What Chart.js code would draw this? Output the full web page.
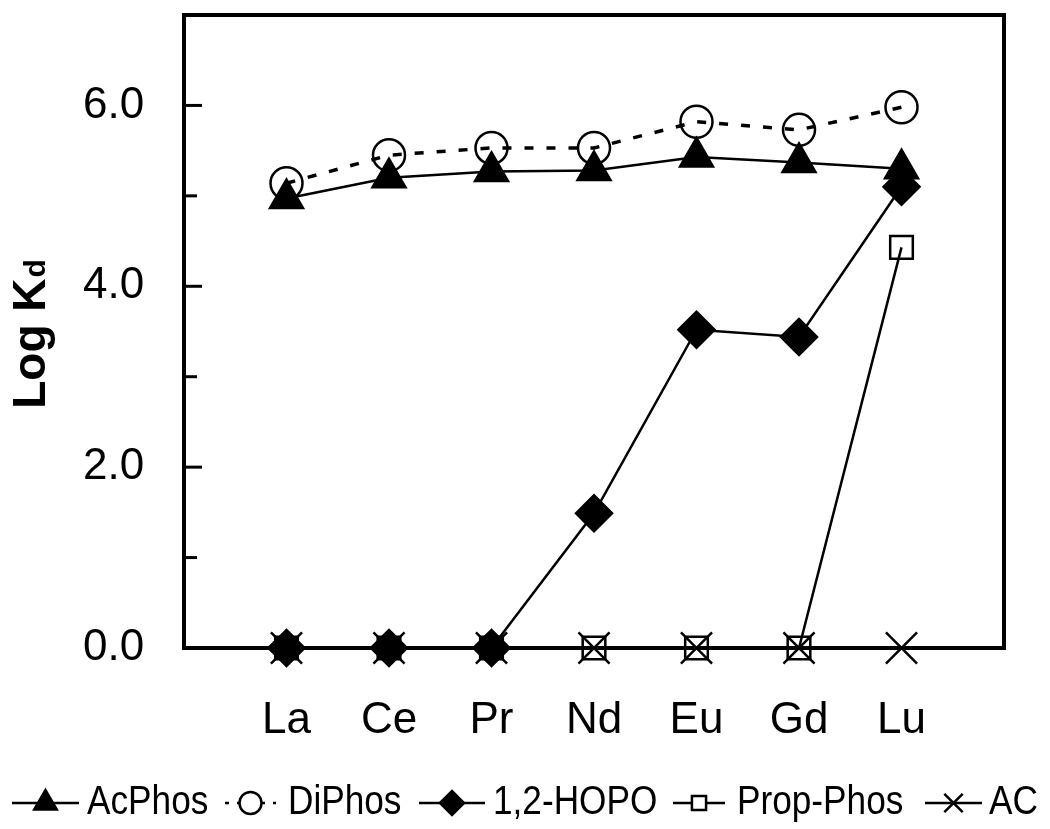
<!DOCTYPE html>
<html>
<head>
<meta charset="utf-8">
<script src="https://cdn.jsdelivr.net/npm/chart.js@4/dist/chart.umd.min.js"></script>
<style>
  html, body { margin: 0; padding: 0; background: #fff; }
</style>
</head>
<body>
<canvas id="kd" width="1050" height="829"></canvas>
<script>
// elements on the x axis
const elements = ['La', 'Ce', 'Pr', 'Nd', 'Eu', 'Gd', 'Lu'];
// log Kd
const acPhos   = [4.97, 5.20, 5.27, 5.28, 5.43, 5.37, 5.30];
const diPhos   = [5.14, 5.45, 5.53, 5.53, 5.82, 5.73, 5.98];
const hopo     = [0, 0, 0, 1.49, 3.52, 3.44, 5.10];
const propPhos = [0, 0, 0, 0, 0, 0, 4.43];
const acSorb   = [0, 0, 0, 0, 0, 0, 0];
const seriesNames = ['AcPhos', 'DiPhos', '1,2-HOPO', 'Prop-Phos', 'AC'];
const yLabels = ['0.0', '', '2.0', '', '4.0', '', '6.0', ''];

const pts = arr => arr.map((v, i) => ({ x: i + 1, y: v }));

const styles = [
  { pointStyle: 'triangle', pointRadius: 19, fill: '#000', dash: [], width: 2.5 },
  { pointStyle: 'circle',   pointRadius: 16, fill: 'rgba(0,0,0,0)', dash: [9, 13], width: 3.5 },
  { pointStyle: 'rectRot',  pointRadius: 18, fill: '#000', dash: [], width: 2.5 },
  { pointStyle: 'rect',     pointRadius: 16, fill: 'rgba(0,0,0,0)', dash: [], width: 2.5 },
  { pointStyle: 'crossRot', pointRadius: 22, fill: 'rgba(0,0,0,0)', dash: [], width: 2.5 }
];

const allData = [acPhos, diPhos, hopo, propPhos, acSorb];

const datasets = allData.map((d, i) => ({
  label: seriesNames[i],
  data: pts(d),
  borderColor: '#000',
  borderWidth: styles[i].width,
  borderDash: styles[i].dash,
  pointStyle: styles[i].pointStyle,
  pointRadius: styles[i].pointRadius,
  pointHoverRadius: styles[i].pointRadius,
  pointBackgroundColor: styles[i].fill,
  pointBorderColor: '#000',
  pointBorderWidth: 2.5,
  tension: 0,
  clip: false
}));

const frame = {
  id: 'frame',
  afterDraw(chart) {
    const ctx = chart.ctx;
    const a = chart.chartArea;
    const y = chart.scales.y;
    ctx.save();
    ctx.strokeStyle = '#000';
    ctx.lineWidth = 4;
    ctx.strokeRect(a.left, a.top, a.right - a.left, a.bottom - a.top);
    // inward ticks
    ctx.lineWidth = 3;
    for (let v = 1; v <= 6; v++) {
      const py = y.getPixelForValue(v);
      ctx.beginPath();
      ctx.moveTo(a.left, py);
      ctx.lineTo(a.left + (v % 2 === 0 ? 18 : 13), py);
      ctx.stroke();
    }
    // y title with subscript
    ctx.fillStyle = '#000';
    ctx.translate(45, (a.top + a.bottom) / 2 + 3);
    ctx.rotate(-Math.PI / 2);
    ctx.textBaseline = 'alphabetic';
    const main = 'Log K';
    ctx.font = 'bold 46px "Liberation Sans", Arial, sans-serif';
    const w1 = ctx.measureText(main).width;
    ctx.font = 'bold 30px "Liberation Sans", Arial, sans-serif';
    const w2 = ctx.measureText('d').width;
    const x0 = -(w1 + w2) / 2;
    ctx.font = 'bold 46px "Liberation Sans", Arial, sans-serif';
    ctx.fillText(main, x0, 0);
    ctx.font = 'bold 30px "Liberation Sans", Arial, sans-serif';
    ctx.fillText('d', x0 + w1 + 1, 0);
    ctx.restore();

    // legend along the bottom
    ctx.save();
    const ly = 803;
    const starts = [12, 225, 419, 673, 925];
    const widths = [67, 51, 66, 52, 57];
    const textX = [87, 288, 493, 737, 989];
    const legendRadius = [13, 11, 12, 10, 13];
    ctx.font = '40px "Liberation Sans", Arial, sans-serif';
    ctx.textBaseline = 'middle';
    seriesNames.forEach((name, i) => {
      const sx = starts[i];
      const sw = widths[i];
      ctx.strokeStyle = '#000';
      ctx.lineWidth = 2.5;
      ctx.setLineDash(i === 1 ? [4, 8] : []);
      ctx.beginPath();
      ctx.moveTo(sx, ly);
      ctx.lineTo(sx + sw, ly);
      ctx.stroke();
      ctx.setLineDash([]);
      ctx.fillStyle = styles[i].fill === '#000' ? '#000' : '#fff';
      Chart.helpers.drawPoint(ctx, {
        pointStyle: styles[i].pointStyle,
        radius: legendRadius[i],
        rotation: 0,
        borderWidth: 2.5
      }, sx + sw / 2, ly);
      // condensed text look
      ctx.fillStyle = '#000';
      ctx.save();
      ctx.translate(textX[i], ly);
      ctx.scale(0.88, 1);
      ctx.fillText(name, 0, 0);
      ctx.restore();
    });
    ctx.restore();
  }
};

new Chart(document.getElementById('kd'), {
  type: 'line',
  data: { datasets },
  options: {
    responsive: false,
    animation: false,
    layout: { autoPadding: false, padding: { top: 15, right: 45, left: 83, bottom: 0 } },
    plugins: { legend: { display: false }, tooltip: { enabled: false } },
    scales: {
      x: {
        type: 'linear',
        min: 0,
        max: 8,
        grid: { display: false, drawTicks: false },
        border: { display: false },
        afterFit: s => { s.height = 181; },
        ticks: {
          stepSize: 1,
          autoSkip: false,
          maxRotation: 0,
          padding: 46,
          color: '#000',
          font: { family: '"Liberation Sans", Arial, sans-serif', size: 44 },
          callback: v => elements[v - 1] || ''
        }
      },
      y: {
        min: 0,
        max: 7,
        grid: { display: false, drawTicks: false },
        border: { display: false },
        afterFit: s => { s.width = 101; },
        ticks: {
          stepSize: 1,
          autoSkip: false,
          padding: 0,
          crossAlign: 'far',
          color: '#000',
          font: c => ({ family: '"Liberation Sans", Arial, sans-serif', size: (c.tick && c.tick.value === 7) ? 8 : 44 }),
          callback: v => yLabels[v]
        }
      }
    }
  },
  plugins: [frame]
});
</script>
</body>
</html>
